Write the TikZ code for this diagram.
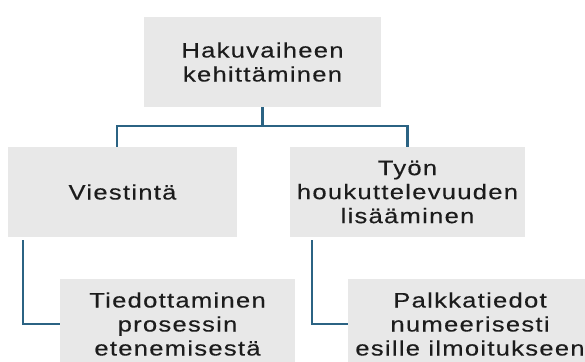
\documentclass[tikz,border=0pt]{standalone}
\usepackage{fontspec}
\setmainfont{Liberation Sans}[FakeStretch=1.22,LetterSpace=6,FakeBold=0.3]
\usetikzlibrary{calc}
\definecolor{boxgray}{HTML}{E8E8E8}
\definecolor{linkblue}{HTML}{2B6383}
\definecolor{textdark}{HTML}{1C1C1C}
\begin{document}
\begin{tikzpicture}[x=1pt,y=-1pt,
  box/.style={fill=boxgray,text=textdark,align=center,inner sep=0pt,
    minimum height=90pt,font=\fontsize{21}{24}\selectfont},
  link/.style={draw=linkblue,line width=2.2pt}]
\useasboundingbox (0,0) rectangle (585,361);
\begin{scope}
\clip (0,0) rectangle (585,361);
% boxes
\node[box,minimum width=237pt] (root) at (262.5,62) {Hakuvaiheen\\kehittäminen};
\node[box,minimum width=229pt] (comm) at (122.5,192) {Viestintä};
\node[box,minimum width=235pt] (attr) at (407.5,192) {Työn\\houkuttelevuuden\\lisääminen};
\node[box,minimum width=235pt] (info) at (177.5,324) {Tiedottaminen\\prosessin\\etenemisestä};
\node[box,minimum width=244pt] (pay) at (470,324) {Palkkatiedot\\numeerisesti\\esille ilmoitukseen};
% connectors
\coordinate (split) at ($(root.south)+(0,19)$);
\coordinate (commtop) at ($(comm.north west)+(109,0)$);
\draw[link] (root.south) -- (split);
\draw[link] (commtop) |- (split) -| (attr.north);
\draw[link] ($(comm.south west)+(15,3)$) |- (info.west);
\draw[link] ($(attr.south west)+(22,3)$) |- (pay.west);
\end{scope}
\end{tikzpicture}
\end{document}
